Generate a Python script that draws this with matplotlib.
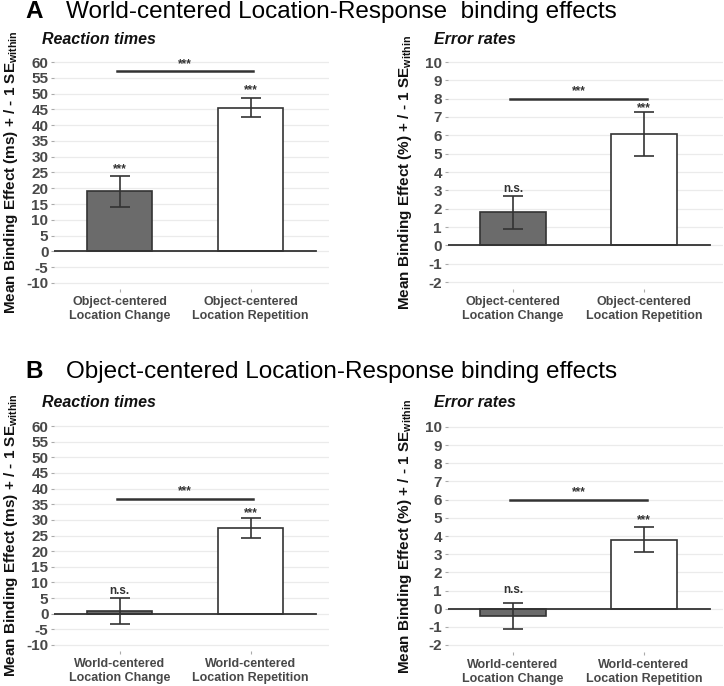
import matplotlib.pyplot as plt

plt.rcParams['font.family'] = ['Liberation Sans', 'DejaVu Sans']
plt.rcParams['mathtext.fontset'] = 'custom'
plt.rcParams['mathtext.rm'] = 'Liberation Sans'
plt.rcParams['mathtext.bf'] = 'Liberation Sans:bold'

# =========================
# DATA
# =========================
cond_a = ["Object-centered\nLocation Change", "Object-centered\nLocation Repetition"]
cond_b = ["World-centered\nLocation Change", "World-centered\nLocation Repetition"]

rt_ticks = list(range(-10, 61, 5))
er_ticks = list(range(-2, 11, 1))

# panel A
rt_a_mean = [19.0, 45.5]
rt_a_se = [5.0, 3.0]
rt_a_sig = ["***", "***"]
rt_a_sig_y = [26.0, 51.0]
rt_a_bracket = 57.0

er_a_mean = [1.8, 6.05]
er_a_se = [0.9, 1.2]
er_a_sig = ["n.s.", "***"]
er_a_sig_y = [3.1, 7.5]
er_a_bracket = 8.0

# panel B
rt_b_mean = [0.8, 27.3]
rt_b_se = [4.15, 3.15]
rt_b_sig = ["n.s.", "***"]
rt_b_sig_y = [7.3, 32.3]
rt_b_bracket = 36.6

er_b_mean = [-0.4, 3.8]
er_b_se = [0.7, 0.67]
er_b_sig = ["n.s.", "***"]
er_b_sig_y = [1.05, 4.85]
er_b_bracket = 6.0

W, H = 724, 686
fig = plt.figure(figsize=(W / 100, H / 100), dpi=100)

DARK = "#333333"
GRAY = "#484848"


def add_panel(c0, y_top_px, top_val, y_bot_px, bot_val, ylim):
    # pixel layout -> axes rect
    unit = 131.0
    x0 = c0 - 0.5 * unit
    x1 = c0 + 1.6 * unit
    s = (y_bot_px - y_top_px) / (top_val - bot_val)
    top = y_top_px - (ylim[1] - top_val) * s
    bot = y_bot_px + (bot_val - ylim[0]) * s
    ax = fig.add_axes([x0 / W, 1 - bot / H, (x1 - x0) / W, (bot - top) / H])
    ax.set_xlim(0.5, 2.6)
    ax.set_ylim(*ylim)
    return ax


def draw(ax, means, ses, sigs, sig_y, bracket, ticks, cats, ylabel, sub, sub_x, sub_y):
    xs = [1, 2]
    for t in ticks:
        ax.axhline(t, color="#ebebeb", lw=0.9, zorder=0)
    ax.bar(xs, means, width=0.5, color=["#6b6b6b", "white"],
           edgecolor=DARK, linewidth=1.2, zorder=2)
    ax.errorbar(xs, means, yerr=ses, fmt="none", ecolor=DARK,
                elinewidth=1.2, capsize=7, capthick=1.2, zorder=3)
    ax.plot([0.5, 2.5], [0, 0], color=DARK, lw=1.3, zorder=4)
    for x, lab, y in zip(xs, sigs, sig_y):
        ax.text(x, y, lab, ha="center", va="center", fontsize=8.5,
                fontweight="bold", color=DARK)
    ax.plot([0.98, 2.02], [bracket, bracket], color=DARK, lw=1.8, zorder=4)
    ax.annotate("***", (1.5, bracket), xytext=(0, 5.5), textcoords="offset points",
                ha="center", va="center", fontsize=8.5, fontweight="bold", color=DARK)

    ax.set_yticks(ticks)
    ax.set_yticklabels([str(t) for t in ticks])
    ax.set_xticks(xs)
    ax.set_xticklabels(cats)
    ax.tick_params(axis="y", length=2.5, width=0.8, color="#aaaaaa", pad=1.5,
                   labelsize=11, labelcolor=GRAY)
    ax.tick_params(axis="x", length=2, width=0.8, color="#aaaaaa", pad=3,
                   labelsize=9, labelcolor=GRAY)
    for lbl in ax.get_yticklabels() + ax.get_xticklabels():
        lbl.set_fontweight("bold")
    for sp in ax.spines.values():
        sp.set_visible(False)
    ax.set_ylabel(ylabel + r"$_{\mathbf{within}}$", fontsize=11,
                  fontweight="bold", color="#111111")
    ax.yaxis.set_label_coords(-0.122, 0.5)
    fig.text(sub_x / W, 1 - sub_y / H, sub, fontsize=11.5, fontweight="bold",
             style="italic", color="#111111", va="center", ha="left")


rt_label = "Mean Binding Effect (ms) + / - 1 SE"
er_label = "Mean Binding Effect (%) + / - 1 SE"

ax1 = add_panel(119.5, 62, 60, 283, -10, (-12, 62))
draw(ax1, rt_a_mean, rt_a_se, rt_a_sig, rt_a_sig_y, rt_a_bracket,
     rt_ticks, cond_a, rt_label, "Reaction times", 42, 40)
ax2 = add_panel(513, 62, 10, 282, -2, (-2.4, 10.4))
draw(ax2, er_a_mean, er_a_se, er_a_sig, er_a_sig_y, er_a_bracket,
     er_ticks, cond_a, er_label, "Error rates", 434, 40)
ax3 = add_panel(119.5, 426, 60, 645, -10, (-12, 62))
draw(ax3, rt_b_mean, rt_b_se, rt_b_sig, rt_b_sig_y, rt_b_bracket,
     rt_ticks, cond_b, rt_label, "Reaction times", 42, 403)
ax4 = add_panel(513, 427, 10, 645, -2, (-2.4, 10.4))
draw(ax4, er_b_mean, er_b_se, er_b_sig, er_b_sig_y, er_b_bracket,
     er_ticks, cond_b, er_label, "Error rates", 434, 403)

# panel titles
fig.text(25 / W, 1 - 12 / H, "A", fontsize=17.5, fontweight="bold", va="center")
fig.text(66 / W, 1 - 12 / H, "World-centered Location-Response  binding effects",
         fontsize=17.5, va="center")
fig.text(25 / W, 1 - 372 / H, "B", fontsize=17.5, fontweight="bold", va="center")
fig.text(66 / W, 1 - 372 / H, "Object-centered Location-Response binding effects",
         fontsize=17.5, va="center")

fig.savefig("out.png", dpi=100)
